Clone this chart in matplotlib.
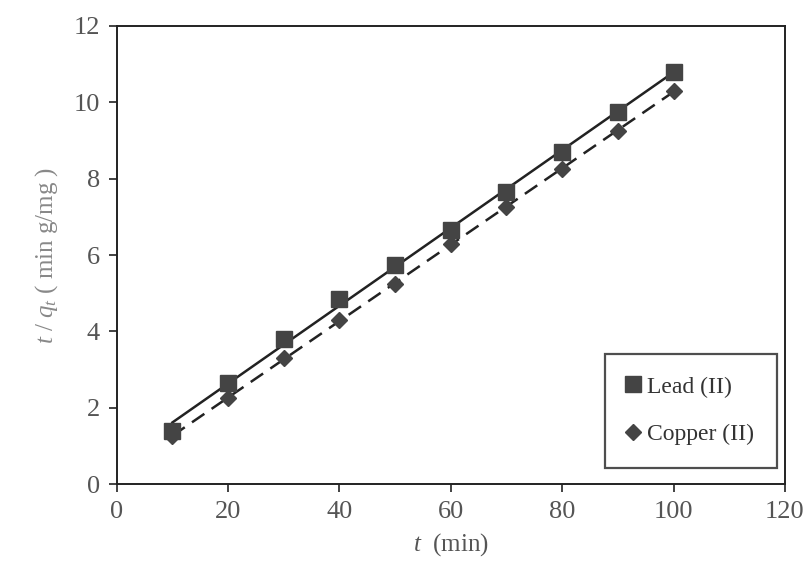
import numpy as np
import matplotlib

matplotlib.use("Agg")
import matplotlib.pyplot as plt

# pseudo-second-order plot data
t_min = [10, 20, 30, 40, 50, 60, 70, 80, 90, 100]
lead_tq = [1.40, 2.65, 3.80, 4.85, 5.75, 6.65, 7.65, 8.70, 9.75, 10.80]
copper_tq = [1.25, 2.25, 3.30, 4.30, 5.25, 6.30, 7.25, 8.25, 9.25, 10.30]

x_ticks = [0, 20, 40, 60, 80, 100, 120]
y_ticks = [0, 2, 4, 6, 8, 10, 12]

plt.rcParams["font.family"] = ["Liberation Serif", "DejaVu Serif"]
plt.rcParams["mathtext.fontset"] = "custom"
plt.rcParams["mathtext.it"] = "Liberation Serif:italic"
plt.rcParams["mathtext.rm"] = "Liberation Serif"

TEXT = "#555555"
MARK = "#444444"

fig = plt.figure(figsize=(8.05, 5.75), dpi=100)
ax = fig.add_axes([0.145, 0.158, 0.83, 0.797])

# linear fits drawn as trend lines over the measured range
x = np.array(t_min, dtype=float)
xs = np.array([x.min(), x.max()])
k_pb, b_pb = np.polyfit(x, lead_tq, 1)
k_cu, b_cu = np.polyfit(x, copper_tq, 1)

ax.plot(xs, k_pb * xs + b_pb, color="#222222", lw=1.8, ls="-")
ax.plot(xs, k_cu * xs + b_cu, color="#222222", lw=1.8, ls=(0, (6, 3.5)))
ax.plot(t_min, lead_tq, ls="none", marker="s", ms=11, color=MARK, label="Lead (II)")
ax.plot(t_min, copper_tq, ls="none", marker="D", ms=8, color=MARK, label="Copper (II)")

ax.set_xlim(0, 120)
ax.set_ylim(0, 12)
ax.set_xticks(x_ticks)
ax.set_yticks(y_ticks)
ax.tick_params(direction="out", length=6, width=1.2, labelsize=19, colors="#222222",
               labelcolor=TEXT, pad=6)
for s in ax.spines.values():
    s.set_linewidth(1.4)
    s.set_color("#222222")

ax.set_xlabel(r"$t$  (min)", fontsize=18, color=TEXT, labelpad=6)
ax.set_ylabel(r"$t$ / $q_t$ ( min g/mg )", fontsize=18, color="#888888", labelpad=10)

leg = ax.legend(loc="lower right", bbox_to_anchor=(0.988, 0.036), fontsize=17,
                frameon=True, fancybox=False, edgecolor="#222222",
                handlelength=0.5, handletextpad=0.35, labelspacing=1.1,
                borderpad=0.95, borderaxespad=0)
leg.get_frame().set_linewidth(1.6)
for txt in leg.get_texts():
    txt.set_color("#333333")

fig.savefig("out.png", dpi=100)
